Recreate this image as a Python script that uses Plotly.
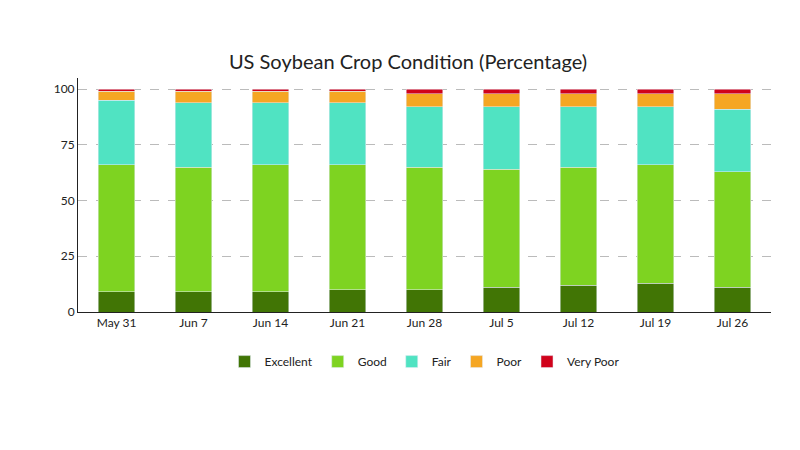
import plotly.graph_objects as go

weeks = ["May 31", "Jun 7", "Jun 14", "Jun 21", "Jun 28", "Jul 5", "Jul 12", "Jul 19", "Jul 26"]
excellent = [9, 9, 9, 10, 10, 11, 12, 13, 11]
good = [57, 56, 57, 56, 55, 53, 53, 53, 52]
fair = [29, 29, 28, 28, 27, 28, 27, 26, 28]
poor = [4, 5, 5, 5, 6, 6, 6, 6, 7]
very_poor = [1, 1, 1, 1, 2, 2, 2, 2, 2]

series = [
    ("Excellent", excellent, "#417505"),
    ("Good", good, "#7ed321"),
    ("Fair", fair, "#50e3c2"),
    ("Poor", poor, "#f5a623"),
    ("Very Poor", very_poor, "#d0021b"),
]

fig = go.Figure()
for name, vals, color in series:
    fig.add_trace(go.Bar(x=weeks, y=vals, name=name, marker_color=color, width=0.48))

fig.update_layout(
    barmode="stack",
    width=800, height=450,
    paper_bgcolor="white", plot_bgcolor="white",
    font=dict(family="Lato, sans-serif", size=12, color="#222"),
    title=dict(text="US Soybean Crop Condition (Percentage)", x=0.5, y=0.895, font=dict(size=20)),
    margin=dict(l=70, r=37, t=70, b=146),
    legend=dict(orientation="h", traceorder="normal", x=0.5, xanchor="center", y=-0.15, yanchor="top",
                font=dict(size=12)),
)
fig.update_xaxes(showline=True, linecolor="#222", ticks="", showgrid=False)
fig.update_yaxes(range=[0, 105], tickvals=[0, 25, 50, 75, 100], showline=True, linecolor="#222",
                 gridcolor="#bbb", griddash="dash", zeroline=False)

fig.write_html("out.html")
